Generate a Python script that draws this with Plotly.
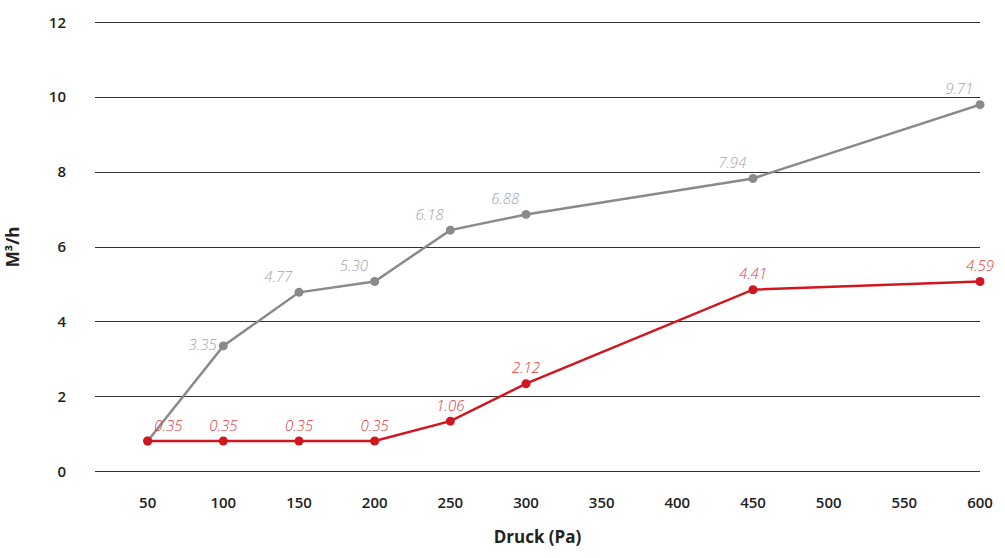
import plotly.graph_objects as go

pressure = [50, 100, 150, 200, 250, 300, 450, 600]
gray_values = [0.82, 3.36, 4.79, 5.08, 6.45, 6.87, 7.83, 9.80]
gray_labels = ["", "3.35", "4.77", "5.30", "6.18", "6.88", "7.94", "9.71"]
red_values = [0.82, 0.82, 0.82, 0.82, 1.35, 2.35, 4.86, 5.08]
red_labels = ["0.35", "0.35", "0.35", "0.35", "1.06", "2.12", "4.41", "4.59"]
x_ticks = [50, 100, 150, 200, 250, 300, 350, 400, 450, 500, 550, 600]
y_ticks = [0, 2, 4, 6, 8, 10, 12]

gray_pos = ["top left", "middle left", "top left", "top left", "top left",
            "top left", "top left", "top left"]
red_pos = ["top right", "top center", "top center", "top center", "top center",
           "top center", "top center", "top center"]

fig = go.Figure()
fig.add_trace(go.Scatter(
    x=pressure, y=gray_values, mode="lines+markers+text",
    text=gray_labels, textposition=gray_pos,
    line=dict(color="#8a8a8a", width=2.5),
    marker=dict(color="#8a8a8a", size=9),
    textfont=dict(family="Open Sans", size=15, color="#a3a3a3", style="italic", weight=300),
    cliponaxis=False, showlegend=False, hoverinfo="skip",
))
fig.add_trace(go.Scatter(
    x=pressure, y=red_values, mode="lines+markers+text",
    text=red_labels, textposition=red_pos,
    line=dict(color="#d0161e", width=2.5),
    marker=dict(color="#d0161e", size=9),
    textfont=dict(family="Open Sans", size=15, color="#e0393f", style="italic", weight=300),
    cliponaxis=False, showlegend=False, hoverinfo="skip",
))

fig.update_layout(
    width=1005, height=558,
    margin=dict(l=95, r=20, t=16, b=84),
    plot_bgcolor="white", paper_bgcolor="white",
    font=dict(family="Open Sans", color="#222222"),
)
fig.update_xaxes(
    range=[15.2, 600], tickvals=x_ticks, showgrid=False, zeroline=False,
    showline=False, ticks="", ticklabelstandoff=18,
    tickfont=dict(family="Open Sans", size=15, weight=600, color="#222222"),
    title=dict(text="Druck (Pa)", standoff=20,
               font=dict(family="Open Sans", size=17, weight=700, color="#222222")),
)
fig.update_yaxes(
    range=[-0.06, 12.06], tickvals=y_ticks, showgrid=True, gridcolor="#333333",
    gridwidth=1, zeroline=False, showline=False, ticks="", ticklabelstandoff=28,
    tickfont=dict(family="Open Sans", size=15, weight=600, color="#222222"),
    title=dict(text="M³/h", standoff=24,
               font=dict(family="Open Sans", size=17, weight=700, color="#222222")),
)

fig.write_html("out.html", config={"displayModeBar": False},
               post_script="document.body.style.margin='0';")
